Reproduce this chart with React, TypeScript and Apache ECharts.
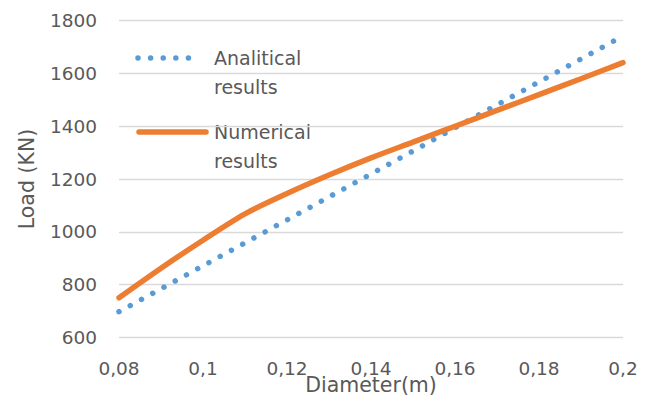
import React, { useEffect, useRef } from "react";
import * as echarts from "echarts";

const diameters = [0.08, 0.09, 0.1, 0.11, 0.12, 0.13, 0.14, 0.15, 0.16, 0.17, 0.18, 0.19, 0.2];
const analytical = [697, 784, 871, 958, 1045, 1132, 1219, 1306, 1394, 1481, 1568, 1655, 1742];
const numerical = [750, 862, 968, 1068, 1145, 1215, 1280, 1340, 1400, 1460, 1520, 1580, 1641];
const seriesNames = ["Analitical results", "Numerical results"];
const xAxisTitle = "Diameter(m)";
const yAxisTitle = "Load (KN)";

const FONT = '"DejaVu Sans", sans-serif';
const GRAY = "#595959";
const BLUE = "#5B9BD5";
const ORANGE = "#ED7D31";

export default function App() {
  const ref = useRef<HTMLDivElement>(null);
  useEffect(() => {
    if (!ref.current) return;
    const chart = echarts.init(ref.current, undefined, { renderer: "svg" });
    const legendText = (text: string, x: number, y: number) => ({
      type: "text",
      x,
      y,
      silent: true,
      style: { text, fill: GRAY, fontSize: 19, fontFamily: FONT, verticalAlign: "middle", align: "left" },
    });
    chart.setOption({
      animation: false,
      backgroundColor: "#ffffff",
      grid: { left: 119, right: 31, top: 20.7, bottom: 65.7, containLabel: false },
      xAxis: {
        type: "value",
        min: 0.08,
        max: 0.2,
        interval: 0.02,
        name: xAxisTitle,
        nameLocation: "middle",
        nameGap: 37,
        nameMoveOverlap: false,
        nameTextStyle: { color: GRAY, fontSize: 20.5, fontFamily: FONT },
        axisLine: { show: false },
        axisTick: { show: false },
        splitLine: { show: false },
        axisLabel: {
          color: GRAY,
          fontSize: 18.5,
          fontFamily: FONT,
          margin: 22,
          formatter: (v: number) => String(+v.toFixed(2)).replace(".", ","),
        },
      },
      yAxis: {
        type: "value",
        min: 600,
        max: 1800,
        interval: 200,
        name: yAxisTitle,
        nameLocation: "middle",
        nameGap: 82,
        nameMoveOverlap: false,
        nameTextStyle: { color: GRAY, fontSize: 20.5, fontFamily: FONT },
        axisLine: { show: false },
        axisTick: { show: false },
        splitLine: { lineStyle: { color: "#d9d9d9", width: 1.3 } },
        axisLabel: {
          color: GRAY,
          fontSize: 18.5,
          fontFamily: FONT,
          margin: 22,
          formatter: (v: number) => String(v),
        },
      },
      series: [
        {
          name: seriesNames[0],
          type: "line",
          data: diameters.map((d, i) => [d, analytical[i]]),
          symbol: "none",
          lineStyle: { color: BLUE, width: 5.5, type: [0.01, 12.8], cap: "round" },
        },
        {
          name: seriesNames[1],
          type: "line",
          smooth: 0.3,
          data: diameters.map((d, i) => [d, numerical[i]]),
          symbol: "none",
          lineStyle: { color: ORANGE, width: 5.5, cap: "round" },
        },
      ],
      graphic: [
        {
          type: "line",
          silent: true,
          shape: { x1: 138, y1: 58, x2: 201, y2: 58 },
          style: { stroke: BLUE, lineWidth: 5.5, lineDash: [0.01, 12.6], lineCap: "round" },
        },
        legendText("Analitical", 214, 58),
        legendText("results", 214, 87),
        {
          type: "line",
          silent: true,
          shape: { x1: 139, y1: 132, x2: 206, y2: 132 },
          style: { stroke: ORANGE, lineWidth: 5.5, lineCap: "round" },
        },
        legendText("Numerical", 214, 132),
        legendText("results", 214, 161),
      ],
    });
    return () => chart.dispose();
  }, []);
  return (
    <div
      ref={ref}
      style={{ position: "fixed", left: 0, top: 0, width: 654, height: 403, background: "#fff" }}
    />
  );
}
